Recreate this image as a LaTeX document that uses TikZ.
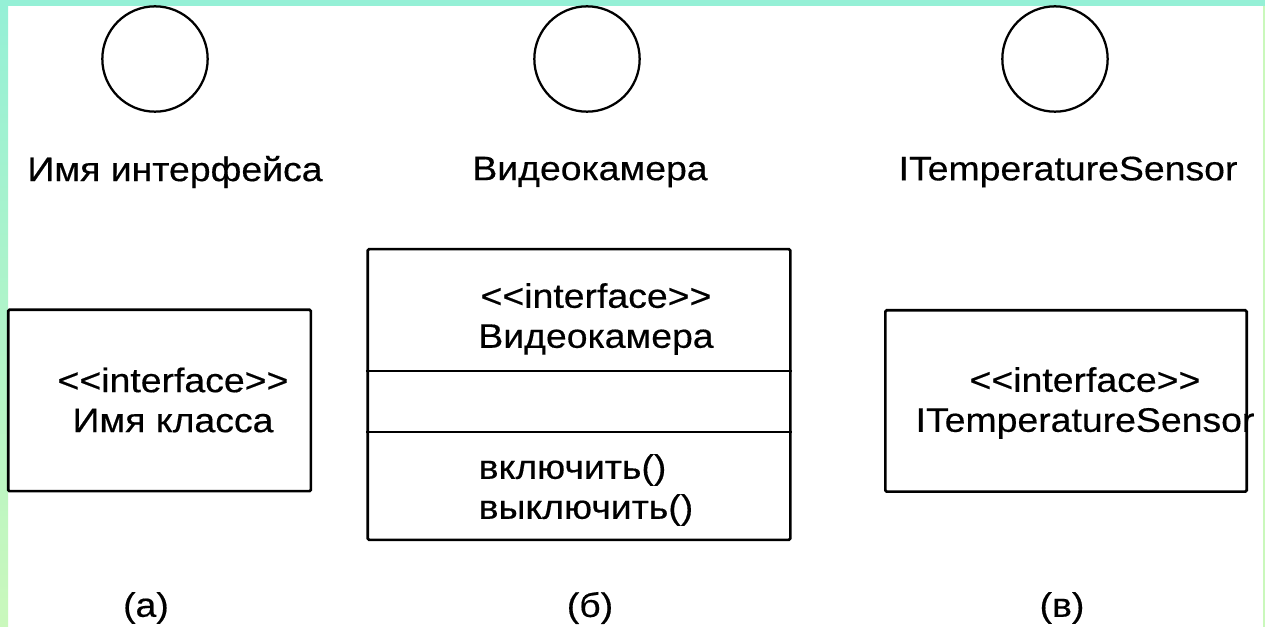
\documentclass[tikz,border=0pt]{standalone}
\usepackage{fontspec}
\newfontfamily\umlfont{Liberation Sans}[FakeStretch=1.1, FakeBold=0.4]

\definecolor{bandtop}{RGB}{149,240,214}
\definecolor{bandbottom}{RGB}{202,248,188}

\begin{document}
\begin{tikzpicture}[x=0.75pt, y=-0.75pt,
    every node/.style={font=\umlfont\fontsize{25.5}{30}\selectfont},
    iface/.style={circle, draw, line width=1.7pt, minimum size=79pt, inner sep=0pt},
    classbox/.style={draw, line width=2pt, inner sep=0pt, rounded corners=1pt}]

    % --- Frame ---
    \useasboundingbox (0,0) rectangle (1265,627);
    \fill[white] (0,0) rectangle (1265,627);
    \fill[bandtop] (0,0) rectangle (1265,6);
    \shade[top color=bandtop, bottom color=bandbottom] (0,6) rectangle (8,627);
    \fill[bandbottom] (1263,6) rectangle (1265,627);

    % --- Interface circles ---
    \node[iface] (circa) at (155,59) {};
    \node[iface] (circb) at (587,59) {};
    \node[iface] (circc) at (1055,59) {};

    % Circle names
    \node (namea) at (175,172) {Имя интерфейса};
    \node (nameb) at (590,172) {Видеокамера};
    \node (namec) at (1068,172) {ITemperatureSensor};

    % --- Class boxes ---
    \node[classbox, minimum width=227pt, minimum height=136pt] (boxa) at (159.5,400.5) {};
    \node[classbox, minimum width=317pt, minimum height=218pt] (boxb) at (579,394.5) {};
    \node[classbox, minimum width=271pt, minimum height=136pt] (boxc) at (1066,401) {};

    % Compartments of box (б)
    \draw[line width=1.7pt] (boxb.west |- 0,371) -- (boxb.east |- 0,371);
    \draw[line width=1.7pt] (boxb.west |- 0,432) -- (boxb.east |- 0,432);

    % Box texts
    \node[align=center] (texta) at (173,400) {<<interface>>\\Имя класса};
    \node[align=center] (textb) at (596,319) {<<interface>>\\Видеокамера};
    \node[align=left, anchor=west] (opsb) at (474,490) {включить()\\выключить()};
    \node[align=center] (textc) at (1085,403) {<<interface>>\\ITemperatureSensor};

    % --- Captions ---
    \node (capa) at (146,608) {(а)};
    \node (capb) at (590,608) {(б)};
    \node (capc) at (1062,608) {(в)};

\end{tikzpicture}
\end{document}
